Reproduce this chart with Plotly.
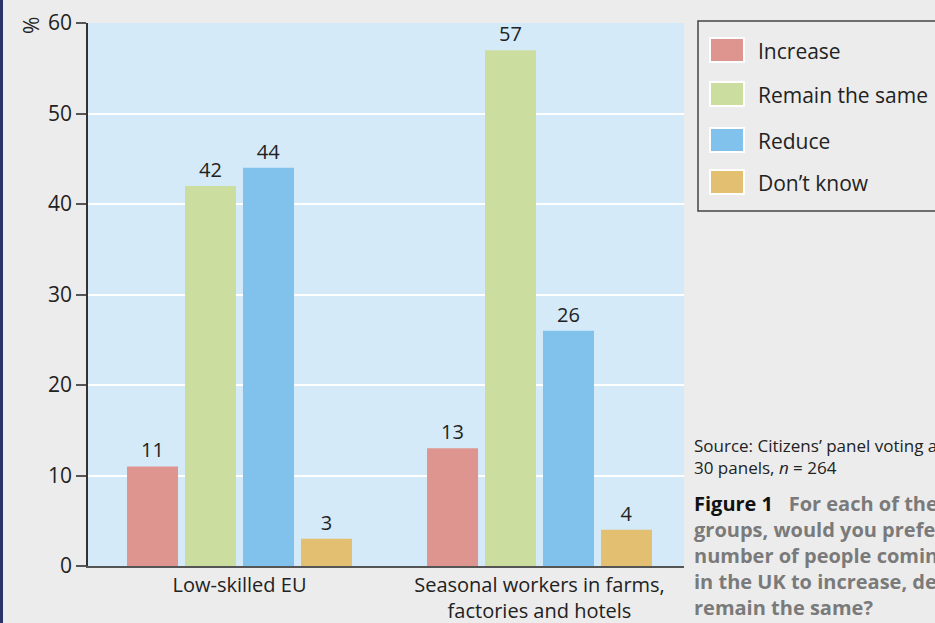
import plotly.graph_objects as go

categories = ["Low-skilled EU", "Seasonal workers in farms,<br>factories and hotels"]
series_names = ["Increase", "Remain the same", "Reduce", "Don\u2019t know"]
series_values = [
    [11, 13],
    [42, 57],
    [44, 26],
    [3, 4],
]
colors = ["#de9590", "#cbdd9f", "#80c2ec", "#e3bf72"]
y_ticks = [0, 10, 20, 30, 40, 50, 60]

FONT = "Open Sans, Noto Sans, sans-serif"
TXT = "#222222"

fig = go.Figure()
for name, vals, col in zip(series_names, series_values, colors):
    fig.add_trace(go.Bar(
        x=categories, y=vals, name=name,
        marker=dict(color=col, line=dict(width=0)),
        text=[str(v) for v in vals], textposition="outside",
        textfont=dict(size=20, color=TXT, family=FONT),
        cliponaxis=False, showlegend=False,
    ))

W, H = 935, 623
L, R, T, B = 88, 251, 23, 57
pw, ph = W - L - R, H - T - B

# category scale: 300 px per category, first centre at x=239.5 px
unit = 300.0
x0 = -(239.5 - L) / unit
x1 = x0 + pw / unit

fig.update_layout(
    width=W, height=H,
    margin=dict(l=L, r=R, t=T, b=B, pad=0, autoexpand=False),
    paper_bgcolor="#ececec",
    plot_bgcolor="#d5eaf8",
    barmode="group",
    bargap=0.227,
    bargroupgap=0.12,
    font=dict(family=FONT, size=20, color=TXT),
    xaxis=dict(
        showline=True, linecolor="#555555", linewidth=2,
        ticks="", tickfont=dict(size=20, color=TXT),
        showgrid=False, range=[x0, x1], automargin=False,
    ),
    yaxis=dict(
        range=[0, 60], tickvals=y_ticks,
        showline=True, linecolor="#333333", linewidth=1.5,
        ticks="outside", ticklen=10, tickwidth=1.5, tickcolor="#555555",
        gridcolor="#ffffff", gridwidth=1.5, automargin=False,
        tickfont=dict(size=21, color=TXT), zeroline=False,
    ),
)

def fx(px):
    return (px - L) / pw
def fy(py):
    return (H - B - py) / ph

# Dark strip at left edge of the page
fig.add_shape(type="rect", xref="paper", yref="paper",
              x0=fx(0), x1=fx(3), y0=fy(H), y1=fy(0),
              fillcolor="#2b3468", line=dict(width=0), layer="above")

# Legend box
fig.add_shape(type="rect", xref="paper", yref="paper",
              x0=fx(698), x1=fx(945), y0=fy(211), y1=fy(21),
              fillcolor="rgba(0,0,0,0)", line=dict(color="#444444", width=1.5))
legend_y = [50, 94, 140, 182]
for name, col, yy in zip(series_names, colors, legend_y):
    fig.add_shape(type="rect", xref="paper", yref="paper",
                  x0=fx(710), x1=fx(744), y0=fy(yy + 12), y1=fy(yy - 12),
                  fillcolor=col, line=dict(color="#ffffff", width=2))
    fig.add_annotation(xref="paper", yref="paper", x=fx(756), y=fy(yy + 1),
                       text=name, showarrow=False, xanchor="left", yanchor="middle",
                       font=dict(size=21, color=TXT, family=FONT))

# y-axis unit label
fig.add_annotation(xref="paper", yref="paper", x=fx(31), y=fy(26),
                   text="%", textangle=-90, showarrow=False,
                   xanchor="center", yanchor="middle",
                   font=dict(size=21, color=TXT, family=FONT))

# Source text
fig.add_annotation(xref="paper", yref="paper", x=fx(692), y=fy(432),
                   text="Source: Citizens\u2019 panel voting across<br>30 panels, <i>n</i> = 264",
                   showarrow=False, xanchor="left", yanchor="top", align="left",
                   font=dict(size=17, color=TXT, family=FONT))

grey = "<b><span style='color:#7a7a7a'>%s</span></b>"
fig.add_annotation(xref="paper", yref="paper", x=fx(692), y=fy(488),
                   text=("<b>Figure 1</b>   " + grey % "For each of these" + "<br>"
                         + grey % "groups, would you prefer the" + "<br>"
                         + grey % "number of people coming to work" + "<br>"
                         + grey % "in the UK to increase, decrease or" + "<br>"
                         + grey % "remain the same?"),
                   showarrow=False, xanchor="left", yanchor="top", align="left",
                   font=dict(size=20, color="#111111", family=FONT))

fig.write_html("out.html")
